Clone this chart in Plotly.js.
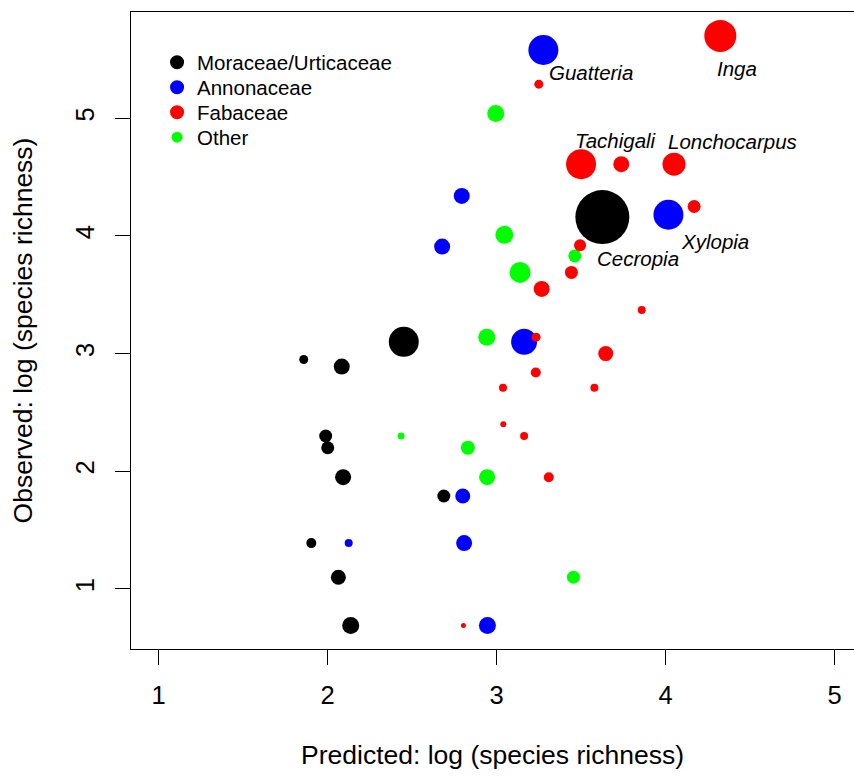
<!DOCTYPE html>
<html>
<head>
<meta charset="utf-8">
<script src="https://cdn.plot.ly/plotly-3.0.1.min.js"></script>
<style>html,body{margin:0;padding:0;background:#fff;}#chart{width:854px;height:776px;}</style>
</head>
<body>
<div id="chart"></div>
<script>
// Moraceae/Urticaceae
const moraX = [3.626, 2.451, 1.859, 2.084, 1.989, 2.001, 2.092, 2.688, 1.904, 2.064, 2.137];
const moraY = [4.16, 3.10, 2.95, 2.89, 2.30, 2.20, 1.95, 1.79, 1.39, 1.10, 0.69];
const moraW = [54, 30, 9, 16, 13, 13, 16, 13, 10, 15, 17];
// Annonaceae
const annoX = [3.277, 4.017, 2.794, 2.678, 3.163, 2.800, 2.125, 2.808, 2.946];
const annoY = [5.58, 4.18, 4.34, 3.91, 3.10, 1.79, 1.39, 1.39, 0.69];
const annoW = [30, 30, 16, 16, 26, 15, 8, 16, 17];
// Fabaceae
const fabaX = [4.324, 3.250, 3.500, 3.738, 4.050, 4.169, 3.494, 3.443, 3.267, 3.859, 3.234, 3.646, 3.232, 3.038, 3.579, 3.040, 3.163, 3.309, 2.804];
const fabaY = [5.70, 5.29, 4.61, 4.61, 4.61, 4.25, 3.92, 3.69, 3.55, 3.37, 3.14, 3.00, 2.84, 2.71, 2.71, 2.40, 2.30, 1.95, 0.69];
const fabaW = [32, 9, 30, 16, 23, 13, 12, 13, 16, 8, 9, 15, 10, 8, 8, 6, 8, 10, 5];
// Other
const othX = [2.995, 3.046, 3.463, 3.139, 2.942, 2.435, 2.830, 2.944, 3.455];
const othY = [5.04, 4.01, 3.83, 3.69, 3.14, 2.30, 2.20, 1.95, 1.10];
const othW = [17, 18, 13, 21, 17, 7, 14, 16, 13];

const groupNames = ["Moraceae/Urticaceae", "Annonaceae", "Fabaceae", "Other"];
const groupColors = ["#000000", "#0000FF", "#FF0000", "#00FF00"];

const tickVals = [1, 2, 3, 4, 5];
const tickText = ["1", "2", "3", "4", "5"];

// Genus labels: [group, index, text]
const genusLabels = [
  ["anno", 0, "Guatteria"],
  ["faba", 0, "Inga"],
  ["faba", 2, "Tachigali"],
  ["faba", 4, "Lonchocarpus"],
  ["anno", 1, "Xylopia"],
  ["mora", 0, "Cecropia"]
];

const FONT = "Liberation Sans, Arial, sans-serif";

const groups = {
  mora: {x: moraX, y: moraY, w: moraW},
  anno: {x: annoX, y: annoY, w: annoW},
  faba: {x: fabaX, y: fabaY, w: fabaW},
  oth:  {x: othX, y: othY, w: othW}
};
const order = ["mora", "anno", "oth", "faba"];
const colorOf = {mora: groupColors[0], anno: groupColors[1], faba: groupColors[2], oth: groupColors[3]};

const traces = order.map(k => ({
  type: "scatter", mode: "markers",
  x: groups[k].x, y: groups[k].y,
  marker: {color: colorOf[k], size: groups[k].w, sizemode: "diameter", line: {width: 0}, opacity: 1},
  showlegend: false, hoverinfo: "skip", cliponaxis: false
}));

// label offsets in pixels (style, not data)
const labelStyle = {
  "Guatteria":    {xanchor: "left",   xshift: 4,  yshift: -22},
  "Inga":         {xanchor: "center", xshift: 17, yshift: -33},
  "Tachigali":    {xanchor: "center", xshift: 35, yshift: 24},
  "Lonchocarpus": {xanchor: "center", xshift: 58, yshift: 23},
  "Xylopia":      {xanchor: "center", xshift: 47, yshift: -27},
  "Cecropia":     {xanchor: "left",   xshift: -7, yshift: -41}
};

const annotations = genusLabels.map(([g, i, t]) => Object.assign({
  x: groups[g].x[i], y: groups[g].y[i], xref: "x", yref: "y",
  text: "<i>" + t + "</i>", showarrow: false, yanchor: "middle",
  font: {family: FONT, size: 20.5, color: "#000"}
}, labelStyle[t]));

// manual legend (R-style), placed in paper coordinates
const legX = 0.0637, legTop = 0.921, legStep = 0.0392;
const legR = [7, 7, 7, 5.5];
const shapes = [];
groupNames.forEach((n, i) => {
  const yy = legTop - i * legStep;
  shapes.push({
    type: "circle", xref: "paper", yref: "paper",
    xsizemode: "pixel", ysizemode: "pixel", xanchor: legX, yanchor: yy,
    x0: -legR[i], x1: legR[i], y0: -legR[i], y1: legR[i],
    fillcolor: groupColors[i], line: {width: 0}
  });
  annotations.push({
    xref: "paper", yref: "paper", x: legX, y: yy, xshift: 18,
    xanchor: "left", yanchor: "middle", showarrow: false,
    text: n, font: {family: FONT, size: 20.5, color: "#000"}
  });
});

const layout = {
  width: 854, height: 776,
  margin: {l: 131, r: 0, t: 12, b: 127, pad: 0},
  paper_bgcolor: "#fff", plot_bgcolor: "#fff",
  font: {family: FONT, color: "#000"},
  showlegend: false,
  xaxis: {
    range: [0.837, 5.115], tickvals: tickVals, ticktext: tickText,
    showgrid: false, zeroline: false,
    showline: true, mirror: true, linecolor: "#000", linewidth: 1,
    ticks: "outside", ticklen: 15, tickwidth: 1, tickcolor: "#000",
    tickfont: {family: FONT, size: 25.5, color: "#000"},
    ticklabelstandoff: 8,
    title: {text: "Predicted: log (species richness)", font: {family: FONT, size: 26.5, color: "#000"}, standoff: 37},
    automargin: false
  },
  yaxis: {
    range: [0.49, 5.903], tickvals: tickVals, ticktext: tickText,
    showgrid: false, zeroline: false,
    showline: true, mirror: false, linecolor: "#000", linewidth: 1,
    ticks: "outside", ticklen: 15, tickwidth: 1, tickcolor: "#000",
    tickangle: -90,
    tickfont: {family: FONT, size: 25.5, color: "#000"},
    ticklabelstandoff: 11,
    title: {text: "Observed: log (species richness)", font: {family: FONT, size: 26.5, color: "#000"}, standoff: 30},
    automargin: false
  },
  shapes: shapes,
  annotations: annotations
};

Plotly.newPlot("chart", traces, layout, {displayModeBar: false, staticPlot: true});
</script>
</body>
</html>
